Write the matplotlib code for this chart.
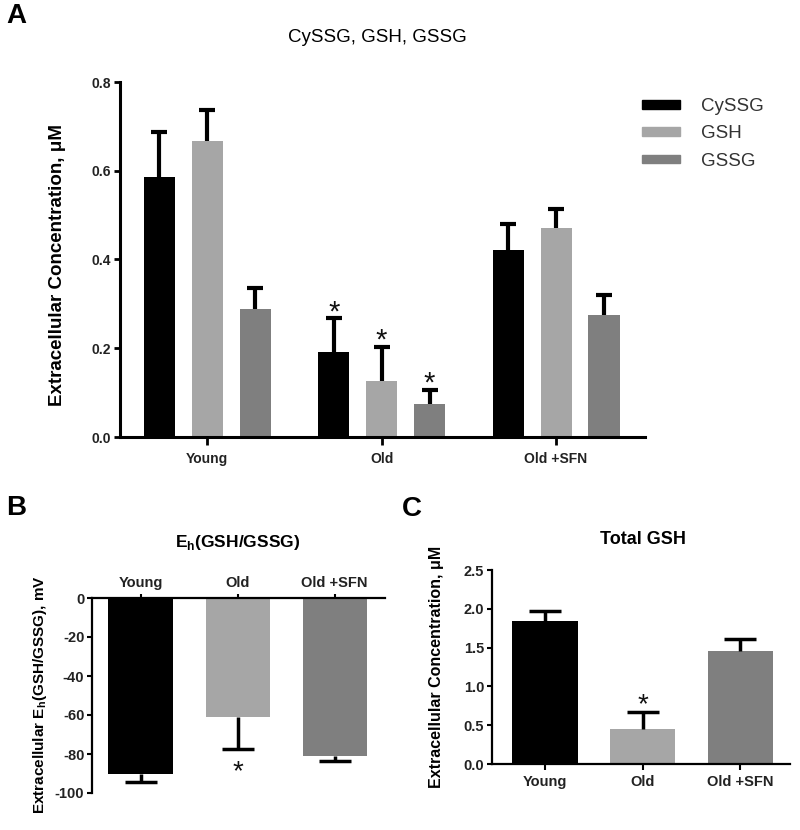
import matplotlib
matplotlib.use('Agg')
import matplotlib.pyplot as plt
import matplotlib.patches as mpatches
import numpy as np

plt.rcParams['font.family'] = ['Liberation Sans', 'DejaVu Sans']
plt.rcParams['mathtext.fontset'] = 'custom'
plt.rcParams['mathtext.rm'] = 'Liberation Sans'
plt.rcParams['mathtext.bf'] = 'Liberation Sans:bold'

# ---------------- data ----------------
groups = ['Young', 'Old', 'Old +SFN']
series = ['CySSG', 'GSH', 'GSSG']

cyssg_mean = [0.585, 0.191, 0.421]
cyssg_sem = [0.102, 0.077, 0.059]
gsh_mean = [0.667, 0.126, 0.471]
gsh_sem = [0.070, 0.077, 0.043]
gssg_mean = [0.288, 0.074, 0.275]
gssg_sem = [0.047, 0.032, 0.045]
sig_a = [[False, True, False], [False, True, False], [False, True, False]]

eh_mean = [-90.0, -61.0, -81.2]
eh_sem = [4.6, 16.5, 2.4]
sig_b = [False, True, False]

tgsh_mean = [1.84, 0.45, 1.46]
tgsh_sem = [0.13, 0.22, 0.15]
sig_c = [False, True, False]

ticks_a = [0.0, 0.2, 0.4, 0.6, 0.8]
ticks_b = [0, -20, -40, -60, -80, -100]
ticks_c = [0.0, 0.5, 1.0, 1.5, 2.0, 2.5]

colors = ['#000000', '#a6a6a6', '#7f7f7f']

W, H = 800, 830
fig = plt.figure(figsize=(W / 100, H / 100), dpi=100)


def rect(x0, y0, x1, y1):
    return [x0 / W, 1 - y1 / H, (x1 - x0) / W, (y1 - y0) / H]


def one_sided_err(ax, xs, ms, es, up, lw, cs):
    z = np.zeros(len(ms))
    yerr = [z, es] if up else [es, z]
    _, caps, _ = ax.errorbar(xs, ms, yerr=yerr, fmt='none', ecolor='black',
                             elinewidth=lw, capsize=cs, capthick=lw, zorder=3)
    # hide the cap sitting on the bar itself
    caps[0 if up else 1].set_visible(False)


# ---------------- Panel A ----------------
axA = fig.add_axes(rect(120, 82, 645, 437))
x = np.arange(len(groups))
offs = [-0.275, 0.0, 0.275]
bw = 0.178
means = [cyssg_mean, gsh_mean, gssg_mean]
sems = [cyssg_sem, gsh_sem, gssg_sem]
for i in range(3):
    xi = x + offs[i]
    axA.bar(xi, means[i], width=bw, color=colors[i], edgecolor='none', zorder=2)
    one_sided_err(axA, xi, means[i], sems[i], True, 3.0, 5.8)
    for j in range(3):
        if sig_a[i][j]:
            axA.annotate('*', xy=(xi[j], means[i][j] + sems[i][j]), xytext=(0, -1.5),
                         textcoords='offset points', ha='center', va='baseline',
                         fontsize=21, color='#111111')
axA.set_xlim(-0.5, 2.51)
axA.set_ylim(0, 0.8)
axA.set_yticks(ticks_a)
axA.set_yticklabels(['%.1f' % t for t in ticks_a])
axA.set_xticks(x)
axA.set_xticklabels(groups)
for s in ['top', 'right']:
    axA.spines[s].set_visible(False)
for s in ['left', 'bottom']:
    axA.spines[s].set_linewidth(2.2)
axA.tick_params(axis='y', length=4.5, width=2, pad=2)
axA.tick_params(axis='x', length=5.8, width=2, pad=5)
for lab in axA.get_xticklabels() + axA.get_yticklabels():
    lab.set_fontweight('bold')
    lab.set_fontsize(10)
    lab.set_color('#222222')

fig.text(377 / W, 1 - 37 / H, 'CySSG, GSH, GSSG', ha='center', va='center', fontsize=13.5)
fig.text(58 / W, 1 - 265 / H, 'Extracellular Concentration, \u03bcM', rotation=90,
         ha='center', va='center', fontsize=13.5, fontweight='bold')
fig.text(16 / W, 1 - 16 / H, 'A', ha='center', va='center', fontsize=20, fontweight='bold')

handles = [mpatches.Patch(color=c, label=s) for c, s in zip(colors, series)]
fig.legend(handles=handles, loc='upper left', bbox_to_anchor=(642 / W, 1 - 98 / H),
           frameon=False, fontsize=13.5, handlelength=2.0, handleheight=0.32,
           handletextpad=1.15, labelspacing=0.55, borderpad=0, borderaxespad=0,
           labelcolor='#333333')

# ---------------- Panel B ----------------
axB = fig.add_axes(rect(92, 598, 385, 793))
bwb = 0.66
axB.bar(x, eh_mean, width=bwb, color=colors, edgecolor='none', zorder=2)
one_sided_err(axB, x, eh_mean, eh_sem, False, 2.5, 11.5)
for j in range(3):
    if sig_b[j]:
        axB.annotate('*', xy=(x[j], eh_mean[j] - eh_sem[j]), xytext=(0, -22),
                     textcoords='offset points', ha='center', va='baseline',
                     fontsize=20, color='#111111')
axB.set_xlim(-0.5, 2.52)
axB.set_ylim(-100, 0)
axB.set_yticks(ticks_b)
axB.set_yticklabels([str(t) for t in ticks_b])
axB.xaxis.tick_top()
axB.set_xticks(x)
axB.set_xticklabels(groups)
for s in ['bottom', 'right']:
    axB.spines[s].set_visible(False)
for s in ['left', 'top']:
    axB.spines[s].set_linewidth(1.6)
axB.tick_params(axis='y', length=3.5, width=1.5, pad=2)
axB.tick_params(axis='x', length=3, width=1.5, pad=3)
for lab in axB.get_xticklabels() + axB.get_yticklabels():
    lab.set_fontweight('bold')
    lab.set_fontsize(10.5)
    lab.set_color('#222222')

fig.text(238 / W, 1 - 542 / H, r'E$_{\mathbf{h}}$(GSH/GSSG)', ha='center', va='center',
         fontsize=12.5, fontweight='bold')
fig.text(40 / W, 1 - 695 / H, r'Extracellular E$_{\mathbf{h}}$(GSH/GSSG), mV', rotation=90,
         ha='center', va='center', fontsize=11, fontweight='bold')
fig.text(16 / W, 1 - 508 / H, 'B', ha='center', va='center', fontsize=20, fontweight='bold')

# ---------------- Panel C ----------------
axC = fig.add_axes(rect(492, 570, 790, 764))
axC.bar(x, tgsh_mean, width=0.67, color=colors, edgecolor='none', zorder=2)
one_sided_err(axC, x, tgsh_mean, tgsh_sem, True, 2.5, 11.5)
for j in range(3):
    if sig_c[j]:
        axC.annotate('*', xy=(x[j], tgsh_mean[j] + tgsh_sem[j]), xytext=(0, -0.5),
                     textcoords='offset points', ha='center', va='baseline',
                     fontsize=20, color='#111111')
axC.set_xlim(-0.545, 2.51)
axC.set_ylim(0, 2.5)
axC.set_yticks(ticks_c)
axC.set_yticklabels(['%.1f' % t for t in ticks_c])
axC.set_xticks(x)
axC.set_xticklabels(groups)
for s in ['top', 'right']:
    axC.spines[s].set_visible(False)
for s in ['left', 'bottom']:
    axC.spines[s].set_linewidth(1.6)
axC.tick_params(axis='y', length=3.5, width=1.5, pad=2)
axC.tick_params(axis='x', length=4, width=1.5, pad=4)
for lab in axC.get_xticklabels() + axC.get_yticklabels():
    lab.set_fontweight('bold')
    lab.set_fontsize(10.5)
    lab.set_color('#222222')

fig.text(643 / W, 1 - 540 / H, 'Total GSH', ha='center', va='center',
         fontsize=13, fontweight='bold')
fig.text(437 / W, 1 - 667 / H, 'Extracellular Concentration, \u03bcM', rotation=90,
         ha='center', va='center', fontsize=11.5, fontweight='bold')
fig.text(412 / W, 1 - 509 / H, 'C', ha='center', va='center', fontsize=20, fontweight='bold')

fig.savefig('out.png', dpi=100)
